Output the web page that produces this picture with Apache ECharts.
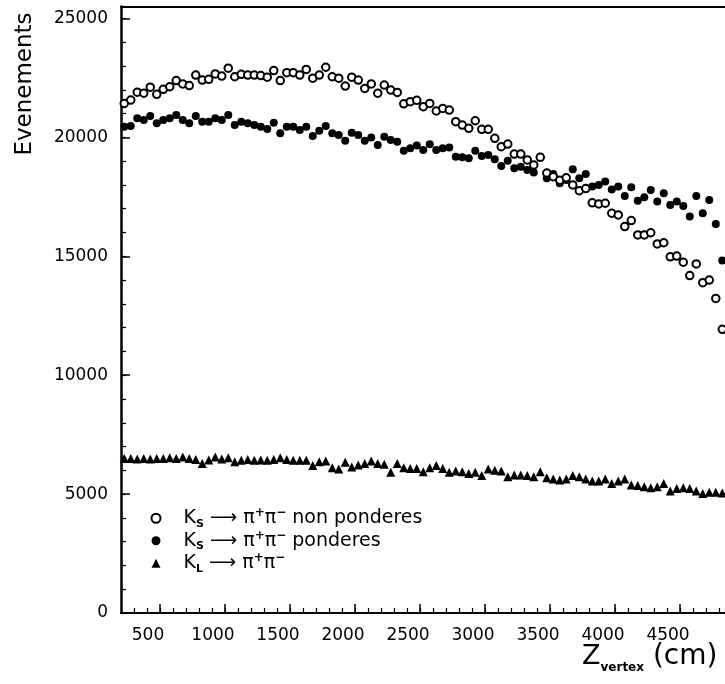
<!DOCTYPE html>
<html><head><meta charset="utf-8">
<script src="https://cdn.jsdelivr.net/npm/echarts@6/dist/echarts.min.js"></script>
<style>html,body{margin:0;padding:0;background:#fff}#c{width:725px;height:684px}</style>
</head><body><div id="c"></div>
<script>
// Bin centres of Z_vertex (cm)
const zVertex = [225,275,325,375,425,475,525,575,625,675,725,775,825,875,925,975,1025,1075,1125,1175,1225,1275,1325,1375,1425,1475,1525,1575,1625,1675,1725,1775,1825,1875,1925,1975,2025,2075,2125,2175,2225,2275,2325,2375,2425,2475,2525,2575,2625,2675,2725,2775,2825,2875,2925,2975,3025,3075,3125,3175,3225,3275,3325,3375,3425,3475,3525,3575,3625,3675,3725,3775,3825,3875,3925,3975,4025,4075,4125,4175,4225,4275,4325,4375,4425,4475,4525,4575,4625,4675,4725,4775,4825];

// K_S -> pi+pi- non ponderes (open circles)
const ksNonPonderes = [21430,21570,21900,21860,22110,21810,22020,22130,22390,22250,22180,22620,22410,22440,22670,22580,22910,22550,22650,22620,22620,22600,22530,22810,22390,22720,22720,22620,22860,22490,22620,22950,22550,22490,22160,22530,22410,22060,22250,21860,22200,21990,21890,21410,21500,21560,21290,21430,21110,21220,21150,20660,20520,20380,20700,20340,20340,19960,19610,19720,19300,19300,19050,18840,19160,18500,18350,18200,18300,18000,17760,17850,17250,17200,17230,16810,16740,16250,16500,15900,15900,15990,15520,15570,14980,15010,14750,14190,14680,13890,14000,13230,11930];

// K_S -> pi+pi- ponderes (filled circles)
const ksPonderes = [20450,20480,20800,20730,20900,20590,20730,20800,20940,20730,20590,20900,20660,20660,20800,20730,20940,20520,20660,20590,20520,20450,20350,20620,20170,20450,20450,20310,20450,20060,20280,20480,20170,20100,19860,20200,20100,19860,20000,19680,20030,19890,19820,19440,19540,19660,19470,19710,19470,19540,19580,19190,19160,19120,19440,19220,19260,19080,18800,19020,18700,18770,18630,18520,19190,18280,18460,18070,18210,18660,18280,18460,17930,18000,18140,17810,17930,17540,17900,17340,17480,17790,17300,17650,17160,17300,17120,16670,17540,16810,17370,16360,14820];

// K_L -> pi+pi- (triangles)
const klPiPi = [6500,6500,6480,6500,6480,6500,6500,6530,6500,6560,6500,6460,6290,6430,6560,6480,6530,6360,6420,6450,6420,6430,6420,6450,6530,6460,6420,6420,6420,6200,6360,6390,6110,6060,6340,6140,6220,6290,6390,6290,6250,5920,6290,6110,6080,6080,5940,6110,6200,6080,5920,5970,5940,5870,5920,5780,6060,6000,5970,5730,5800,5800,5780,5730,5940,5690,5640,5590,5640,5780,5730,5640,5550,5550,5640,5450,5550,5640,5380,5360,5310,5270,5310,5450,5130,5240,5270,5240,5130,5030,5080,5080,5050];

const xMajorTicks = [500,1000,1500,2000,2500,3000,3500,4000,4500];
const yMajorTicks = [0,5000,10000,15000,20000,25000];
const seriesNames = ['nonpond','pond','kl'];
const legendLabels = {
  nonpond: '{gap|}{t|K}{sub|S}{t| \u27F6 \u03C0}{sup|+}{t|\u03C0}{sup|\u2212}{t| non ponderes}',
  pond: '{gap|}{t|K}{sub|S}{t| \u27F6 \u03C0}{sup|+}{t|\u03C0}{sup|\u2212}{t| ponderes}',
  kl: '{gap|}{t|K}{sub|L}{t| \u27F6 \u03C0}{sup|+}{t|\u03C0}{sup|\u2212}'
};

const X_MIN = 200, X_MAX = 4846, Y_MIN = 0, Y_MAX = 25500;
const FONT = 'DejaVu Sans';
const pairs = ys => zVertex.map((x, i) => [x, ys[i]]);

const chart = echarts.init(document.getElementById('c'), null, {renderer: 'canvas'});
const baseX = {type: 'value', min: X_MIN, max: X_MAX, gridIndex: 0, splitLine: {show: false}};
const baseY = {type: 'value', min: Y_MIN, max: Y_MAX, gridIndex: 0, splitLine: {show: false}};
const plain = v => String(v);

chart.setOption({
  animation: false,
  backgroundColor: '#fff',
  grid: {left: 121, right: 0, top: 6.6, bottom: 71, containLabel: false, outerBoundsMode: 'none'},
  xAxis: [
    Object.assign({}, baseX, {
      position: 'bottom',
      axisLine: {show: true, lineStyle: {color: '#000', width: 2}},
      axisTick: {show: true, inside: true, length: 9, customValues: xMajorTicks, lineStyle: {color: '#000', width: 1.5}},
      axisLabel: {show: true, customValues: xMajorTicks, formatter: plain, color: '#000', fontSize: 17, fontFamily: FONT, margin: 14, padding: [0, 24, 0, 0]}
    }),
    Object.assign({}, baseX, {
      position: 'bottom', interval: 100,
      axisLine: {show: false},
      axisTick: {show: true, inside: true, length: 5, lineStyle: {color: '#000', width: 1.2}},
      axisLabel: {show: false}
    }),
    Object.assign({}, baseX, {
      position: 'top',
      axisLine: {show: true, lineStyle: {color: '#000', width: 2}},
      axisTick: {show: false}, axisLabel: {show: false}
    })
  ],
  yAxis: [
    Object.assign({}, baseY, {
      position: 'left',
      axisLine: {show: true, lineStyle: {color: '#000', width: 2.5}},
      axisTick: {show: true, inside: true, length: 9, customValues: yMajorTicks, lineStyle: {color: '#000', width: 1.5}},
      axisLabel: {show: true, customValues: yMajorTicks, formatter: plain, color: '#000', fontSize: 17, fontFamily: FONT, margin: 13}
    }),
    Object.assign({}, baseY, {
      position: 'left', interval: 1000,
      axisLine: {show: false},
      axisTick: {show: true, inside: true, length: 5, lineStyle: {color: '#000', width: 1.2}},
      axisLabel: {show: false}
    })
  ],
  legend: {
    show: true, orient: 'vertical', left: 150.5, top: 507,
    itemWidth: 9, itemHeight: 9, itemGap: 0, padding: 0,
    data: seriesNames,
    formatter: name => legendLabels[name],
    textStyle: {
      color: '#000', fontFamily: FONT, fontSize: 19, lineHeight: 22.5,
      rich: {
        gap: {width: 18, lineHeight: 22.5},
        t: {fontFamily: FONT, fontSize: 19, color: '#000', lineHeight: 22.5},
        sub: {fontFamily: FONT, fontSize: 11, fontWeight: 'bold', color: '#000', lineHeight: 13, verticalAlign: 'bottom'},
        sup: {fontFamily: FONT, fontSize: 12, fontWeight: 'bold', color: '#000', lineHeight: 14, verticalAlign: 'top'}
      }
    }
  },
  series: [
    {name: 'pond', type: 'scatter', xAxisIndex: 0, yAxisIndex: 0, symbol: 'circle', symbolSize: 8,
     itemStyle: {color: '#000', opacity: 1}, data: pairs(ksPonderes)},
    {name: 'nonpond', type: 'scatter', xAxisIndex: 0, yAxisIndex: 0, symbol: 'emptyCircle', symbolSize: 7.5,
     itemStyle: {color: '#000', borderColor: '#000', borderWidth: 2, opacity: 1}, data: pairs(ksNonPonderes)},
    {name: 'kl', type: 'scatter', xAxisIndex: 0, yAxisIndex: 0, symbol: 'triangle', symbolSize: 9,
     itemStyle: {color: '#000', opacity: 1}, data: pairs(klPiPi)}
  ],
  graphic: [
    {type: 'text', x: 25, y: 84, rotation: Math.PI / 2,
     style: {text: 'Evenements', font: '23px "DejaVu Sans"', fill: '#000', align: 'center', verticalAlign: 'middle'}},
    {type: 'text', left: 582, top: 643,
     style: {text: '{z|Z}{v|vertex}{c| (cm)}', fill: '#000',
       rich: {
         z: {fontFamily: FONT, fontSize: 27, lineHeight: 34, fill: '#000'},
         c: {fontFamily: FONT, fontSize: 28, lineHeight: 34, fill: '#000'},
         v: {fontFamily: FONT, fontSize: 12, fontWeight: 'bold', lineHeight: 15, verticalAlign: 'bottom', fill: '#000'}
       }}}
  ]
});
</script>
</body></html>
